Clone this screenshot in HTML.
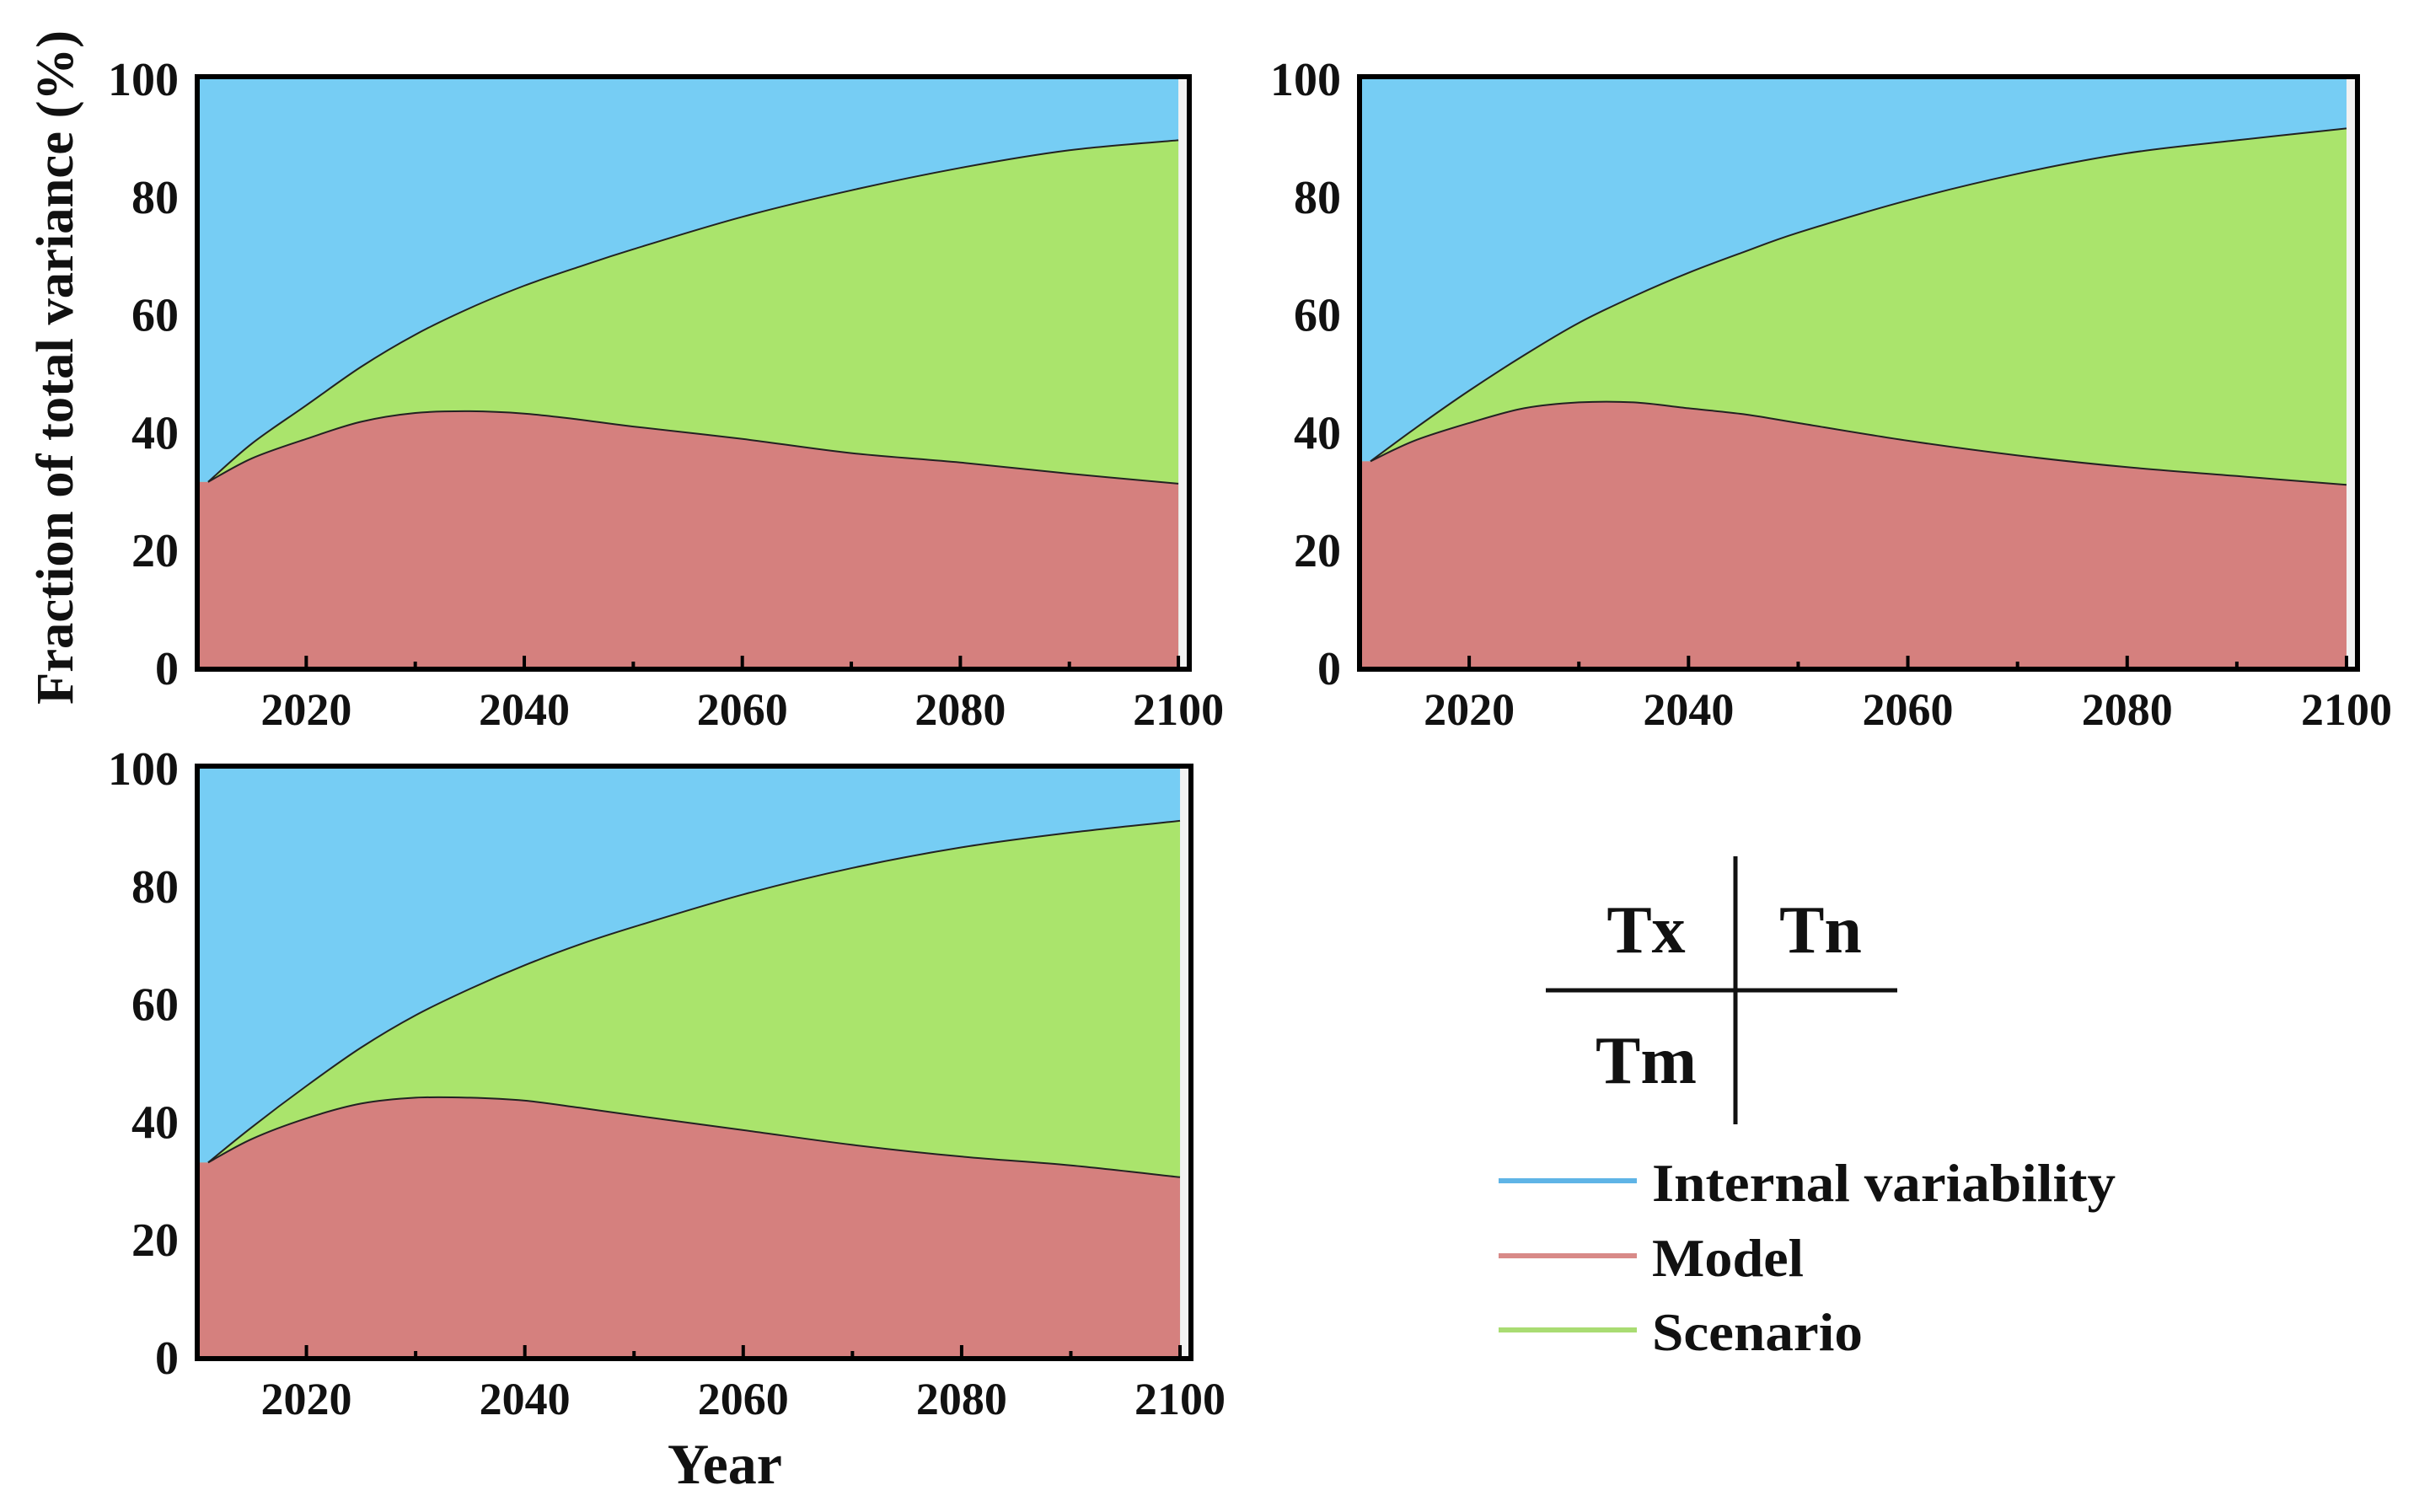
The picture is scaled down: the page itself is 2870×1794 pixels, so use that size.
<!DOCTYPE html>
<html><head><meta charset="utf-8"><style>
html,body{margin:0;padding:0;background:#fff}
svg{display:block}
text{font-family:"Liberation Serif",serif;font-weight:bold;fill:#111}
</style></head><body>
<svg id="fig" width="2870" height="1794" viewBox="0 0 2870 1794" xmlns="http://www.w3.org/2000/svg">
<g id="panels"></g>
<text x="86" y="436" font-size="62" text-anchor="middle" transform="rotate(-90 86 436)" textLength="800" lengthAdjust="spacingAndGlyphs">Fraction of total variance (%)</text>
<text x="860" y="1760" font-size="68" text-anchor="middle">Year</text>
<g>
<line x1="2059" y1="1016" x2="2059" y2="1334" stroke="#111" stroke-width="5"/>
<line x1="1834" y1="1175" x2="2251" y2="1175" stroke="#111" stroke-width="5"/>
<text x="1953" y="1130" font-size="80" text-anchor="middle">Tx</text>
<text x="2160" y="1130" font-size="80" text-anchor="middle">Tn</text>
<text x="1953" y="1285" font-size="80" text-anchor="middle">Tm</text>
</g>
<g>
<line x1="1778" y1="1401" x2="1942" y2="1401" stroke="#5fb4e6" stroke-width="6"/>
<text x="1960" y="1425" font-size="64" textLength="550" lengthAdjust="spacingAndGlyphs">Internal variability</text>
<line x1="1778" y1="1490" x2="1942" y2="1490" stroke="#d88a88" stroke-width="6"/>
<text x="1960" y="1514" font-size="64" textLength="180" lengthAdjust="spacingAndGlyphs">Model</text>
<line x1="1778" y1="1578" x2="1942" y2="1578" stroke="#a9dc72" stroke-width="6"/>
<text x="1960" y="1602" font-size="64" textLength="250" lengthAdjust="spacingAndGlyphs">Scenario</text>
</g>
</svg>
<script>
const years = [2011,2015,2020,2025,2030,2035,2040,2045,2050,2060,2070,2080,2090,2100];
const txModel = [31.5,35.5,38.8,41.7,43.2,43.5,43.1,42.1,40.9,38.8,36.4,34.8,32.9,31.2];
const txModelScenario = [31.5,38,44.5,51,56.5,61,64.8,68,71,76.5,81,84.8,87.8,89.5];
const tnModel = [35,38.5,41.5,44,45,45,44,43,41.5,38.5,36,34,32.5,31];
const tnModelScenario = [35,40.5,47,53,58.5,63,67,70.5,73.8,79.3,83.8,87.3,89.5,91.5];
const tmModel = [33,37,40.5,43,44,44,43.5,42.3,41,38.5,36,34,32.5,30.5];
const tmModelScenario = [33,39,46,52.5,58,62.5,66.5,70,73,78.5,83,86.5,89,91];
const xTicks = [2020,2040,2060,2080,2100];
const yTicks = [0,20,40,60,80,100];

const NS='http://www.w3.org/2000/svg';
const root=document.getElementById('panels');
function mk(tag,attrs,parent){const e=document.createElementNS(NS,tag);for(const k in attrs)e.setAttribute(k,attrs[k]);parent.appendChild(e);return e;}
function spline(pts){let d='';for(let i=0;i<pts.length-1;i++){const p0=pts[i-1]||pts[i],p1=pts[i],p2=pts[i+1],p3=pts[i+2]||p2;
const c1x=p1[0]+(p2[0]-p0[0])/6,c1y=p1[1]+(p2[1]-p0[1])/6,c2x=p2[0]-(p3[0]-p1[0])/6,c2y=p2[1]-(p3[1]-p1[1])/6;
d+=' C'+c1x.toFixed(1)+','+c1y.toFixed(1)+' '+c2x.toFixed(1)+','+c2y.toFixed(1)+' '+p2[0].toFixed(1)+','+p2[1].toFixed(1);}return d;}
function panel(name,L,T,R,B,model,ms){
  const g=mk('g',{},root);
  
  
  const x=v=>L+(v-2010)*(R-L)/91, y=v=>(B-2)-v*(B-T-4)/100;
  mk('rect',{x:L,y:T,width:R-L,height:B-T,fill:'#f2f2f2'},g);
  const blue=mk('rect',{x:L,y:T,width:x(2100)-L,height:B-T,fill:'#76cdf4'},g);
  
  
  const pm=years.map((v,i)=>[x(v),y(model[i])]), ps=years.map((v,i)=>[x(v),y(ms[i])]);
  const green=mk('path',{d:'M'+ps[0][0]+','+ps[0][1]+spline(ps)+' L'+x(2100)+','+B+' L'+L+','+B+' L'+L+','+ps[0][1]+' Z',fill:'#aae46c'},g);
  
  
  const red=mk('path',{d:'M'+pm[0][0]+','+pm[0][1]+spline(pm)+' L'+x(2100)+','+B+' L'+L+','+B+' L'+L+','+pm[0][1]+' Z',fill:'#d5807e'},g);
  
  
  const l1=mk('path',{d:'M'+ps[0][0]+','+ps[0][1]+spline(ps),fill:'none',stroke:'#222','stroke-width':2},g);
  
  
  const l2=mk('path',{d:'M'+pm[0][0]+','+pm[0][1]+spline(pm),fill:'none',stroke:'#222','stroke-width':2},g);
  
  
  const fr=mk('rect',{x:L,y:T,width:R-L,height:B-T,fill:'none',stroke:'#000','stroke-width':6},g);
  
  
  for(let yr=2020;yr<=2100;yr+=10){const big=yr%20===0;mk('line',{x1:x(yr),y1:B,x2:x(yr),y2:B-(big?16:9),stroke:'#000','stroke-width':4},g);}
  xTicks.forEach(v=>{const t=mk('text',{x:x(v),y:B+66,'font-size':54,'text-anchor':'middle'},g);t.textContent=v;
    
    });
  yTicks.forEach(v=>{const t=mk('text',{x:L-22,y:y(v)+20,'font-size':56,'text-anchor':'end'},g);t.textContent=v;
    
    });
}
panel('panel-tx',234,91,1411,794,txModel,txModelScenario);
panel('panel-tn',1613,91,2797,794,tnModel,tnModelScenario);
panel('panel-tm',234,909,1413,1612,tmModel,tmModelScenario);
</script>
</body></html>
